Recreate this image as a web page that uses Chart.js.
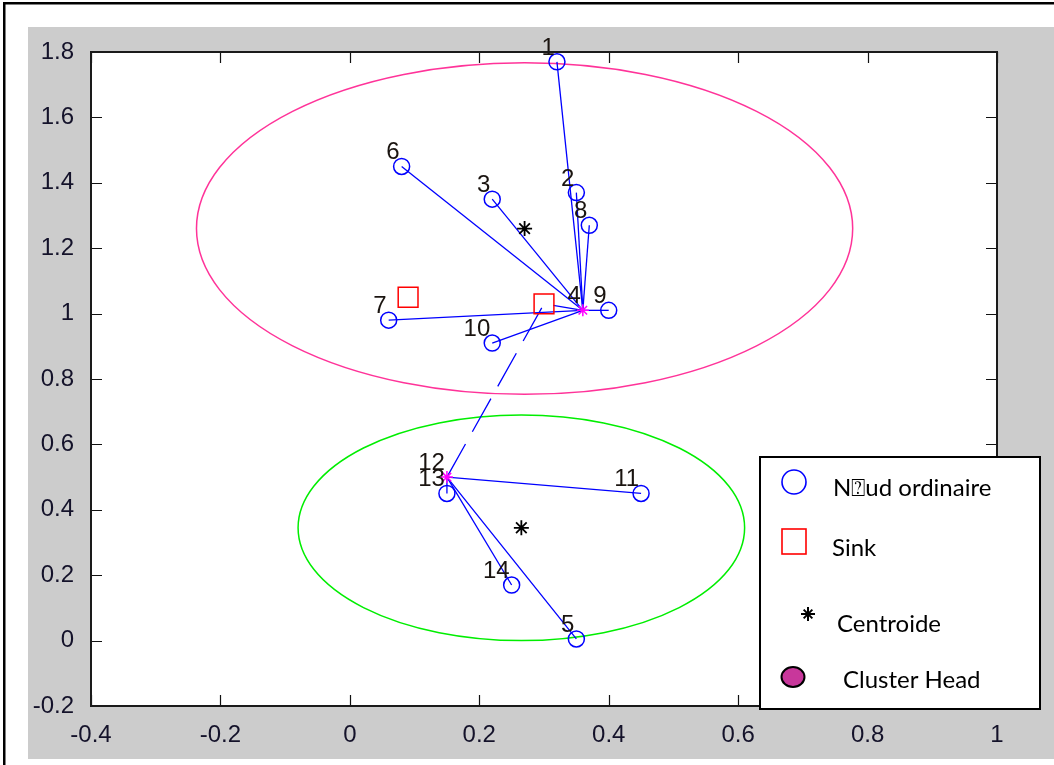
<!DOCTYPE html>
<html>
<head>
<meta charset="utf-8">
<script src="https://cdn.jsdelivr.net/npm/chart.js@4.4.1/dist/chart.umd.min.js"></script>
<style>
  html, body { margin: 0; padding: 0; background: #fff; }
  canvas { display: block; }
</style>
</head>
<body>
<canvas id="net" width="1054" height="765"></canvas>
<script>
// Sensor nodes (id, position)
const nodeIds = [1, 2, 3, 4, 5, 6, 7, 8, 9, 10, 11, 12, 13, 14];
const nodeX   = [0.32, 0.35, 0.22, 0.36, 0.35, 0.08, 0.06, 0.37, 0.40, 0.22, 0.45, 0.15, 0.15, 0.25];
const nodeY   = [1.77, 1.37, 1.35, 1.01, 0.005, 1.45, 0.98, 1.27, 1.01, 0.91, 0.45, 0.50, 0.45, 0.17];
// Cluster index of each node
const nodeCluster = [0, 0, 0, 0, 1, 0, 0, 0, 0, 0, 1, 1, 1, 1];

// Per-cluster: head node id, centroid and coverage radius
const headIds       = [4, 12];
const centroidX     = [0.27, 0.265];
const centroidY     = [1.26, 0.345];
const clusterRadius = [0.507, 0.345];

// Sinks
const sinkX = [0.09, 0.30];
const sinkY = [1.05, 1.03];

// Inter-cluster route: head 12 -> sink 2 -> head 4
const routeHeadFrom = 12;
const routeSink = 1;
const routeHeadTo = 4;

// Axis tick labels
const xTickLabels = ['-0.4', '-0.2', '0', '0.2', '0.4', '0.6', '0.8', '1'];
const yTickLabels = ['-0.2', '0', '0.2', '0.4', '0.6', '0.8', '1', '1.2', '1.4', '1.6', '1.8'];

// Legend entries
const legendLabels = ['N\u2370ud ordinaire', 'Sink', 'Centroide', 'Cluster Head'];

const ringColors = ['#ff3399', '#00ee00'];
const BLUE = '#0000ff';

function nodePoint(id) {
  const i = nodeIds.indexOf(id);
  return { x: nodeX[i], y: nodeY[i] };
}

// Links: each ordinary node to its cluster head
const linkSets = [];
nodeIds.forEach((id, i) => {
  const head = headIds[nodeCluster[i]];
  if (id === head) return;
  linkSets.push({
    type: 'scatter',
    data: [nodePoint(id), nodePoint(head)],
    showLine: true,
    borderColor: BLUE,
    borderWidth: 1.3,
    pointRadius: 0,
    order: 10
  });
});

const routeSet = {
  type: 'scatter',
  data: [nodePoint(routeHeadFrom), { x: sinkX[routeSink], y: sinkY[routeSink] }, nodePoint(routeHeadTo)],
  showLine: true,
  borderColor: BLUE,
  borderWidth: 1.3,
  borderDash: [38, 14],
  pointRadius: 0,
  order: 9
};

const ordinaryNodes = nodeIds
  .map((id, i) => ({ id, x: nodeX[i], y: nodeY[i] }))
  .filter(p => !headIds.includes(p.id))
  .map(p => ({ x: p.x, y: p.y }));

const datasets = [
  ...linkSets,
  routeSet,
  {
    data: ordinaryNodes,
    pointStyle: 'circle',
    pointRadius: 8,
    borderColor: BLUE,
    backgroundColor: 'rgba(0,0,0,0)',
    borderWidth: 1.5,
    order: 5
  },
  {
    data: sinkX.map((x, i) => ({ x, y: sinkY[i] })),
    pointStyle: 'rect',
    pointRadius: 14,
    borderColor: '#ff0000',
    backgroundColor: 'rgba(0,0,0,0)',
    borderWidth: 1.5,
    order: 4
  },
  {
    data: centroidX.map((x, i) => ({ x, y: centroidY[i] })),
    pointStyle: 'star',
    pointRadius: 7.5,
    borderColor: '#000000',
    backgroundColor: '#000000',
    borderWidth: 1.8,
    order: 3
  },
  {
    data: headIds.map(id => nodePoint(id)),
    pointStyle: 'star',
    pointRadius: 6,
    borderColor: '#ff00ff',
    backgroundColor: '#ff00ff',
    borderWidth: 1.5,
    order: 2
  }
];

// Page frame and grey figure background
const framePlugin = {
  id: 'frame',
  beforeDraw(chart) {
    const ctx = chart.ctx;
    const { left, top, right, bottom } = chart.chartArea;
    ctx.save();
    ctx.fillStyle = '#ffffff';
    ctx.fillRect(0, 0, chart.width, chart.height);
    ctx.fillStyle = '#000000';
    ctx.fillRect(3, 2, 2.5, chart.height);
    ctx.fillRect(3, 2, chart.width, 2.5);
    ctx.fillStyle = '#cccccc';
    ctx.fillRect(28, 27, chart.width - 28, 759 - 27);
    ctx.fillStyle = '#ffffff';
    ctx.fillRect(left, top, right - left, bottom - top);
    ctx.restore();
  }
};

// Cluster coverage circles (circles in data space)
const ringPlugin = {
  id: 'rings',
  beforeDatasetsDraw(chart) {
    const ctx = chart.ctx;
    const xs = chart.scales.x, ys = chart.scales.y;
    ctx.save();
    centroidX.forEach((cx, i) => {
      const px = xs.getPixelForValue(cx);
      const py = ys.getPixelForValue(centroidY[i]);
      const rx = Math.abs(xs.getPixelForValue(cx + clusterRadius[i]) - px);
      const ry = Math.abs(ys.getPixelForValue(centroidY[i] + clusterRadius[i]) - py);
      ctx.beginPath();
      ctx.ellipse(px, py, rx, ry, 0, 0, Math.PI * 2);
      ctx.strokeStyle = ringColors[i];
      ctx.lineWidth = 1.5;
      ctx.stroke();
    });
    ctx.restore();
  }
};

// Node numbers, placed up-left of each node
const labelPlugin = {
  id: 'nodeLabels',
  afterDatasetsDraw(chart) {
    const ctx = chart.ctx;
    const xs = chart.scales.x, ys = chart.scales.y;
    ctx.save();
    ctx.font = '24px "Liberation Sans", Arial, sans-serif';
    ctx.fillStyle = '#1a1410';
    ctx.textAlign = 'right';
    ctx.textBaseline = 'alphabetic';
    nodeIds.forEach((id, i) => {
      const px = xs.getPixelForValue(nodeX[i]);
      const py = ys.getPixelForValue(nodeY[i]);
      ctx.fillText(String(id), px - 2, py - 7);
    });
    ctx.restore();
  }
};

// Axes box with inward ticks, then the legend panel
const boxPlugin = {
  id: 'axesBox',
  afterDraw(chart) {
    const ctx = chart.ctx;
    const { left, top, right, bottom } = chart.chartArea;
    const xs = chart.scales.x, ys = chart.scales.y;
    ctx.save();
    ctx.strokeStyle = '#111111';
    ctx.lineWidth = 1.2;
    const tl = 11;
    ctx.beginPath();
    xs.ticks.forEach(t => {
      const px = Math.round(xs.getPixelForValue(t.value)) + 0.5;
      ctx.moveTo(px, bottom); ctx.lineTo(px, bottom - tl);
      ctx.moveTo(px, top); ctx.lineTo(px, top + tl);
    });
    ys.ticks.forEach(t => {
      const py = Math.round(ys.getPixelForValue(t.value)) + 0.5;
      ctx.moveTo(left, py); ctx.lineTo(left + tl, py);
      ctx.moveTo(right, py); ctx.lineTo(right - tl, py);
    });
    ctx.stroke();
    ctx.lineWidth = 2;
    ctx.strokeStyle = '#1a1a1a';
    ctx.strokeRect(left, top, right - left, bottom - top);

    // Legend panel
    const lx = 760, ly = 457, lw = 280, lh = 252;
    ctx.fillStyle = '#ffffff';
    ctx.fillRect(lx, ly, lw, lh);
    ctx.lineWidth = 2;
    ctx.strokeStyle = '#000000';
    ctx.strokeRect(lx, ly, lw, lh);

    // symbols
    ctx.lineWidth = 1.6;
    ctx.strokeStyle = BLUE;
    ctx.beginPath();
    ctx.arc(794, 482, 12, 0, Math.PI * 2);
    ctx.stroke();

    ctx.strokeStyle = '#ff0000';
    ctx.strokeRect(782, 529, 24, 25);

    ctx.strokeStyle = '#000000';
    ctx.lineWidth = 2;
    ctx.beginPath();
    const sx = 808, sy = 614, sr = 7;
    ctx.moveTo(sx - sr, sy); ctx.lineTo(sx + sr, sy);
    ctx.moveTo(sx, sy - sr); ctx.lineTo(sx, sy + sr);
    const d = sr * 0.62;
    ctx.moveTo(sx - d, sy - d); ctx.lineTo(sx + d, sy + d);
    ctx.moveTo(sx - d, sy + d); ctx.lineTo(sx + d, sy - d);
    ctx.stroke();

    ctx.beginPath();
    ctx.ellipse(793, 677, 11.5, 10, 0, 0, Math.PI * 2);
    ctx.fillStyle = '#c8379b';
    ctx.fill();
    ctx.lineWidth = 2;
    ctx.strokeStyle = '#000000';
    ctx.stroke();

    // texts
    ctx.fillStyle = '#000000';
    ctx.font = '24px Lato, "Open Sans", sans-serif';
    ctx.textAlign = 'left';
    ctx.textBaseline = 'alphabetic';
    const textPos = [[833, 496], [832, 556], [837, 632], [843, 688]];
    legendLabels.forEach((t, i) => ctx.fillText(t, textPos[i][0], textPos[i][1]));
    ctx.restore();
  }
};

const tickFont = { family: '"Liberation Sans", Arial, sans-serif', size: 24 };

new Chart(document.getElementById('net'), {
  type: 'scatter',
  data: { datasets },
  options: {
    responsive: false,
    devicePixelRatio: 1,
    animation: false,
    events: [],
    layout: { padding: { left: 28, top: 52, right: 57, bottom: 0 } },
    plugins: { legend: { display: false }, tooltip: { enabled: false } },
    scales: {
      x: {
        type: 'linear',
        min: -0.4, max: 1,
        grid: { display: false },
        border: { display: false },
        ticks: {
          stepSize: 0.2,
          padding: 7,
          color: '#14122a',
          font: tickFont,
          maxRotation: 0,
          autoSkip: false,
          callback: (v, i) => xTickLabels[i]
        },
        afterFit: s => { s.height = 59; }
      },
      y: {
        type: 'linear',
        min: -0.2, max: 1.8,
        grid: { display: false },
        border: { display: false },
        ticks: {
          stepSize: 0.2,
          padding: 9,
          color: '#14122a',
          font: tickFont,
          autoSkip: false,
          callback: (v, i) => yTickLabels[i]
        },
        afterFit: s => { s.width = 63; }
      }
    }
  },
  plugins: [framePlugin, ringPlugin, labelPlugin, boxPlugin]
});
</script>
</body>
</html>
